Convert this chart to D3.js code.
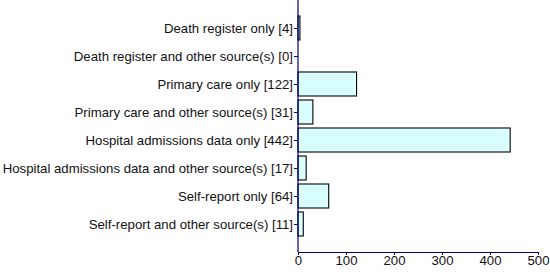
<!DOCTYPE html>
<html>
<head>
<meta charset="utf-8">
<script src="https://cdn.jsdelivr.net/npm/d3@7"></script>
<style>
  body { margin: 0; background: #fff; }
  text { font-family: "Liberation Sans", Arial, sans-serif; }
</style>
</head>
<body>
<div id="vis-container"></div>
<script>
// Data
const categories = [
  "Death register only",
  "Death register and other source(s)",
  "Primary care only",
  "Primary care and other source(s)",
  "Hospital admissions data only",
  "Hospital admissions data and other source(s)",
  "Self-report only",
  "Self-report and other source(s)"
];
const counts = [4, 0, 122, 31, 442, 17, 64, 11];
const xTicks = [0, 100, 200, 300, 400, 500];

// Set up
const width = 550;
const height = 276;
const margin = { top: 0, right: 12, bottom: 24, left: 298 };
const axisColor = "#000080";
const barHeight = 24;
const fontSize = "13.2px";

const svg = d3.select("#vis-container")
  .append("svg")
  .attr("width", width)
  .attr("height", height);

const labels = categories.map((c, i) => c + " [" + counts[i] + "]");

// Scales
const xScale = d3.scaleLinear()
  .domain([0, 500])
  .range([margin.left, margin.left + 240]);

const yScale = d3.scalePoint()
  .domain(labels)
  .range([28, 224]);

const axisBottomY = 252;

// Bars
svg.selectAll(".bar")
  .data(labels)
  .enter()
  .append("rect")
  .attr("class", "bar")
  .attr("x", xScale(0))
  .attr("y", (d) => yScale(d) - barHeight / 2)
  .attr("width", (d, i) => xScale(counts[i]) - xScale(0))
  .attr("height", barHeight)
  .attr("fill", "#d9ffff")
  .attr("stroke", "#000")
  .attr("stroke-width", 1.1)
  .style("display", (d, i) => counts[i] > 0 ? null : "none");

// Y axis
const yAxis = svg.append("g")
  .attr("transform", `translate(${xScale(0)},0)`)
  .call(d3.axisLeft(yScale).tickSize(4).tickPadding(1))
  .attr("font-size", fontSize);
yAxis.select(".domain").remove();
yAxis.selectAll(".tick line").attr("stroke", axisColor);
yAxis.selectAll(".tick text").attr("fill", "#111").attr("font-family", "Liberation Sans, Arial, sans-serif");

svg.append("line")
  .attr("x1", xScale(0)).attr("x2", xScale(0))
  .attr("y1", 0).attr("y2", axisBottomY)
  .attr("stroke", axisColor)
  .attr("stroke-width", 1.2);

// X axis
const xAxis = svg.append("g")
  .attr("transform", `translate(0,${axisBottomY})`)
  .call(d3.axisBottom(xScale).tickValues(xTicks).tickSize(3).tickSizeOuter(0).tickPadding(1))
  .attr("font-size", fontSize);
xAxis.select(".domain").attr("stroke", axisColor).attr("stroke-width", 1.2);
xAxis.selectAll(".tick line").attr("stroke", axisColor);
xAxis.selectAll(".tick text").attr("fill", "#111").attr("font-family", "Liberation Sans, Arial, sans-serif");
</script>
</body>
</html>
